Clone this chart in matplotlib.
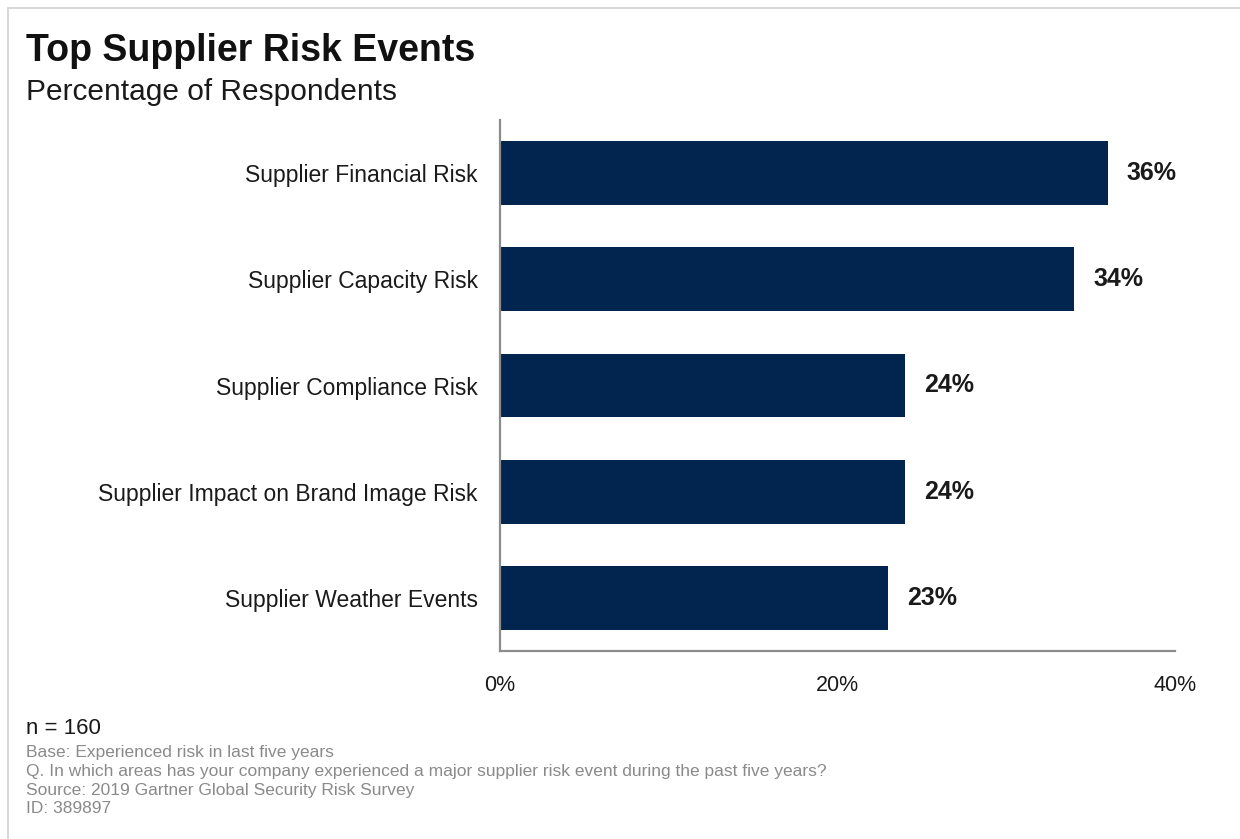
import matplotlib.pyplot as plt
from matplotlib.patches import Rectangle

# Survey results
categories = [
    "Supplier Financial Risk",
    "Supplier Capacity Risk",
    "Supplier Compliance Risk",
    "Supplier Impact on Brand Image Risk",
    "Supplier Weather Events",
]
values = [36, 34, 24, 24, 23]
x_ticks = [0, 20, 40]

footnotes = [
    "Base: Experienced risk in last five years",
    "Q. In which areas has your company experienced a major supplier risk event during the past five years?",
    "Source: 2019 Gartner Global Security Risk Survey",
    "ID: 389897",
]

navy = "#02254f"
plt.rcParams["font.family"] = ["Liberation Sans", "DejaVu Sans"]

W, H = 1240, 839
fig = plt.figure(figsize=(W / 100, H / 100), dpi=100)
fig.patch.set_facecolor("white")

# thin frame on the top and left edges
fig.add_artist(Rectangle((8 / W, -0.1), 1.2, 1 - 8 / H + 0.1, transform=fig.transFigure,
                         fill=False, edgecolor="#d0d0d0", linewidth=1.2))

ax = fig.add_axes([500 / W, 1 - 651 / H, (1175 - 500) / W, (651 - 120) / H])
pos = list(range(len(categories)))[::-1]
ax.barh(pos, values, height=0.6, color=navy)
ax.set_xlim(0, 40)
ax.set_ylim(-0.5, len(categories) - 0.5)
ax.set_yticks(pos)
ax.set_yticklabels(categories, fontsize=16.5, color="#1a1a1a")
ax.set_xticks(x_ticks)
ax.set_xticklabels([f"{t}%" for t in x_ticks], fontsize=15.5, color="#1a1a1a")
ax.tick_params(axis="y", length=0, pad=16)
ax.tick_params(axis="x", length=0, pad=17)
for side in ["top", "right"]:
    ax.spines[side].set_visible(False)
for side in ["left", "bottom"]:
    ax.spines[side].set_color("#8c8c8c")
    ax.spines[side].set_linewidth(1.6)

for p, v in zip(pos, values):
    ax.text(v + 1.15, p, f"{v}%", va="center", ha="left", fontsize=18,
            fontweight="bold", color="#1a1a1a")

fig.text(26 / W, 1 - 33 / H, "Top Supplier Risk Events", fontsize=27, fontweight="bold",
         va="top", ha="left", color="#111111")
fig.text(26 / W, 1 - 78 / H, "Percentage of Respondents", fontsize=21.5,
         va="top", ha="left", color="#1a1a1a")

fig.text(26 / W, 1 - 728 / H, "n = 160", fontsize=16, va="center", ha="left", color="#1a1a1a")
for i, line in enumerate(footnotes):
    fig.text(26 / W, 1 - (753 + i * 18.5) / H, line, fontsize=12.5, va="center", ha="left",
             color="#8a8a8a")

fig.savefig("out.png", dpi=100)
